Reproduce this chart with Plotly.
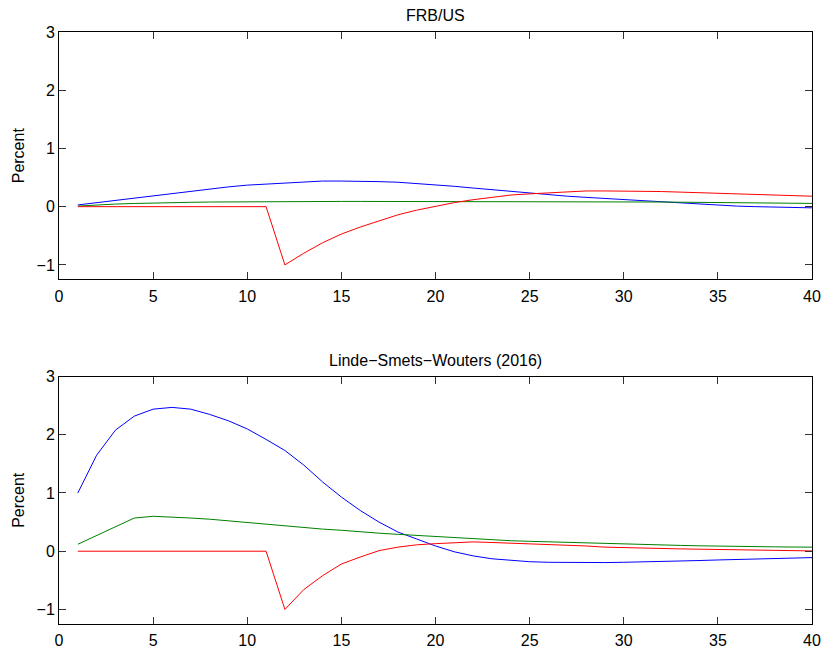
import plotly.graph_objects as go
from plotly.subplots import make_subplots

quarters = list(range(1, 41))

# FRB/US panel
frbus_blue = [0.03, 0.07, 0.11, 0.15, 0.19, 0.23, 0.27, 0.30, 0.34, 0.37,
              0.39, 0.41, 0.43, 0.44, 0.44, 0.44, 0.43, 0.42, 0.40, 0.38,
              0.35, 0.32, 0.29, 0.26, 0.23, 0.21, 0.18, 0.16, 0.14, 0.12,
              0.10, 0.08, 0.06, 0.04, 0.02, 0.01, 0.00, -0.01, -0.02, -0.02]
frbus_green = [0.01, 0.03, 0.045, 0.055, 0.065, 0.07, 0.075, 0.08, 0.083, 0.085,
               0.087, 0.088, 0.089, 0.09, 0.09, 0.09, 0.09, 0.09, 0.09, 0.09,
               0.09, 0.09, 0.09, 0.09, 0.089, 0.088, 0.087, 0.086, 0.085, 0.084,
               0.082, 0.08, 0.077, 0.074, 0.071, 0.068, 0.065, 0.062, 0.059, 0.056]
frbus_red = [0, 0, 0, 0, 0, 0, 0, 0, 0, 0,
             0, -1.0, -0.80, -0.62, -0.47, -0.35, -0.24, -0.14, -0.06, 0.01,
             0.07, 0.12, 0.16, 0.20, 0.22, 0.24, 0.26, 0.27, 0.27, 0.27,
             0.27, 0.26, 0.25, 0.24, 0.23, 0.22, 0.21, 0.20, 0.19, 0.18]

# Linde-Smets-Wouters panel
lsw_blue = [1.0, 1.65, 2.08, 2.32, 2.44, 2.47, 2.44, 2.35, 2.24, 2.10,
            1.92, 1.73, 1.48, 1.19, 0.93, 0.70, 0.50, 0.33, 0.21, 0.09,
            -0.01, -0.08, -0.13, -0.16, -0.18, -0.19, -0.195, -0.20, -0.195, -0.19,
            -0.185, -0.18, -0.17, -0.16, -0.15, -0.14, -0.13, -0.12, -0.115, -0.11]
lsw_green = [0.12, 0.27, 0.42, 0.57, 0.60, 0.59, 0.57, 0.55, 0.52, 0.49,
             0.46, 0.43, 0.41, 0.38, 0.36, 0.33, 0.31, 0.29, 0.27, 0.25,
             0.23, 0.21, 0.20, 0.18, 0.17, 0.16, 0.15, 0.14, 0.13, 0.12,
             0.11, 0.105, 0.10, 0.093, 0.086, 0.082, 0.078, 0.075, 0.072, 0.07]
lsw_red = [0, 0, 0, 0, 0, 0, 0, 0, 0, 0,
           0, -1.0, -0.66, -0.42, -0.22, -0.10, 0.01, 0.07, 0.11, 0.13,
           0.15, 0.16, 0.15, 0.14, 0.12, 0.11, 0.10, 0.09, 0.07, 0.06,
           0.05, 0.045, 0.04, 0.035, 0.03, 0.025, 0.02, 0.015, 0.01, 0.005]

titles = ["FRB/US", "Linde\u2212Smets\u2212Wouters (2016)"]
x_ticks = [0, 5, 10, 15, 20, 25, 30, 35, 40]
y_ticks = [-1, 0, 1, 2, 3]

fig = make_subplots(rows=2, cols=1, vertical_spacing=0.164)

panels = [(frbus_blue, frbus_green, frbus_red), (lsw_blue, lsw_green, lsw_red)]
colors = ["#0000ff", "#008000", "#ff0000"]
for r, series in enumerate(panels, start=1):
    for ys, c in zip(series, colors):
        fig.add_trace(go.Scatter(x=quarters, y=ys, mode="lines",
                                 line=dict(color=c, width=1), showlegend=False),
                      row=r, col=1)

font = dict(family="Liberation Sans, Arial, sans-serif", size=16, color="black")
for r in (1, 2):
    fig.update_xaxes(range=[0, 40], tickvals=x_ticks, ticks="inside", ticklen=7,
                     tickcolor="#333", showline=True, linecolor="black", linewidth=1,
                     mirror="ticks", showgrid=False, zeroline=False, automargin=False,
                     ticklabelstandoff=2, tickfont=font, row=r, col=1)
    fig.update_yaxes(range=[-1.25, 3], tickvals=y_ticks, ticks="inside", ticklen=7,
                     tickcolor="#333", showline=True, linecolor="black", linewidth=1,
                     mirror="ticks", showgrid=False, zeroline=False, automargin=False,
                     tickfont=font, title=dict(text="Percent", font=font, standoff=7),
                     row=r, col=1)

fig.update_layout(
    width=825, height=650,
    margin=dict(l=59, r=13, t=32, b=26),
    plot_bgcolor="white", paper_bgcolor="white",
    font=font,
    annotations=[
        dict(text=titles[0], x=0.5, y=1.0, xref="paper", yref="paper",
             xanchor="center", yanchor="bottom", yshift=6, showarrow=False, font=font),
        dict(text=titles[1], x=0.5, y=0.418, xref="paper", yref="paper",
             xanchor="center", yanchor="bottom", yshift=6, showarrow=False, font=font),
    ],
)

fig.write_html("out.html")
